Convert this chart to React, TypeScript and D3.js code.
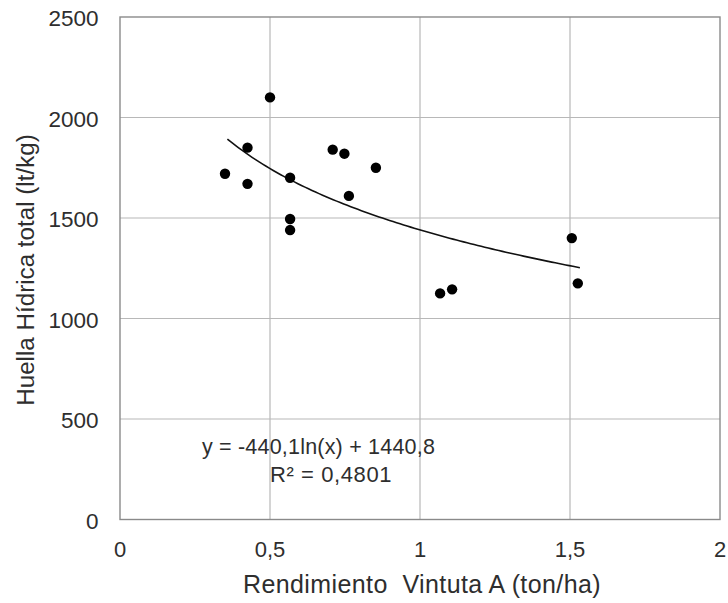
import React from "react";
import * as d3 from "d3";

const xValues = [0.35, 0.425, 0.425, 0.5, 0.567, 0.567, 0.567, 0.709, 0.748, 0.763, 0.853, 1.067, 1.107, 1.506, 1.526];
const yValues = [1720, 1850, 1670, 2100, 1700, 1495, 1440, 1840, 1820, 1610, 1750, 1125, 1145, 1400, 1175];
const xTicks = [0, 0.5, 1, 1.5, 2];
const yTicks = [0, 500, 1000, 1500, 2000, 2500];
const trendA = -440.1;
const trendB = 1440.8;
const trendRange = [0.358, 1.533];
const eqText = "y = -440,1ln(x) + 1440,8";
const r2Text = "R² = 0,4801";
const xTitle = "Rendimiento  Vintuta A (ton/ha)";
const yTitle = "Huella Hídrica total (lt/kg)";

const fmt = (v: number) => String(v).replace(".", ",");

export default function App() {
  const W = 728, H = 603;
  const left = 120, right = 720, top = 17, bottom = 519.5;
  const x = d3.scaleLinear().domain([0, 2]).range([left, right]);
  const y = d3.scaleLinear().domain([0, 2500]).range([bottom, top]);
  const trendPts = d3.range(0, 101).map((i) => {
    const xv = trendRange[0] + ((trendRange[1] - trendRange[0]) * i) / 100;
    return [xv, trendA * Math.log(xv) + trendB] as [number, number];
  });
  const line = d3.line<[number, number]>().x((d) => x(d[0])).y((d) => y(d[1]));
  const font = "'Liberation Sans', Arial, sans-serif";
  const txt = "#2e2e2e";
  return (
    <svg width={W} height={H} style={{ position: "absolute", left: 0, top: 0, background: "#fff" }} fontFamily={font}>
      <rect x={0} y={0} width={W} height={H} fill="#fff" />
      {xTicks.slice(1, -1).map((t) => (
        <line key={"gx" + t} x1={x(t)} x2={x(t)} y1={top} y2={bottom} stroke="#b8b8b8" strokeWidth={1.2} />
      ))}
      {yTicks.slice(1, -1).map((t) => (
        <line key={"gy" + t} x1={left} x2={right} y1={y(t)} y2={y(t)} stroke="#b8b8b8" strokeWidth={1.2} />
      ))}
      <rect x={left} y={top} width={right - left} height={bottom - top} fill="none" stroke="#8a8a8a" strokeWidth={1.4} />
      {xTicks.map((t) => (
        <text key={"tx" + t} x={x(t)} y={557} textAnchor="middle" fontSize={22} fill={txt}>{fmt(t)}</text>
      ))}
      {yTicks.map((t) => (
        <text key={"ty" + t} x={98.5} y={y(t) + 9} textAnchor="end" fontSize={22.5} fill={txt}>{fmt(t)}</text>
      ))}
      <path d={line(trendPts) || ""} fill="none" stroke="#111" strokeWidth={1.6} />
      {xValues.map((xv, i) => (
        <circle key={"p" + i} cx={x(xv)} cy={y(yValues[i])} r={5.2} fill="#000" />
      ))}
      <text x={318.5} y={454} textAnchor="middle" fontSize={21.5} letterSpacing={0.2} fill={txt}>{eqText}</text>
      <text x={331} y={482} textAnchor="middle" fontSize={22} letterSpacing={0.6} fill={txt}>{r2Text}</text>
      <text x={422} y={593} textAnchor="middle" fontSize={25} letterSpacing={0.4} fill={txt} style={{ whiteSpace: "pre" }}>{xTitle}</text>
      <text transform={`translate(34,270) rotate(-90)`} textAnchor="middle" fontSize={24.2} fill={txt}>{yTitle}</text>
    </svg>
  );
}
